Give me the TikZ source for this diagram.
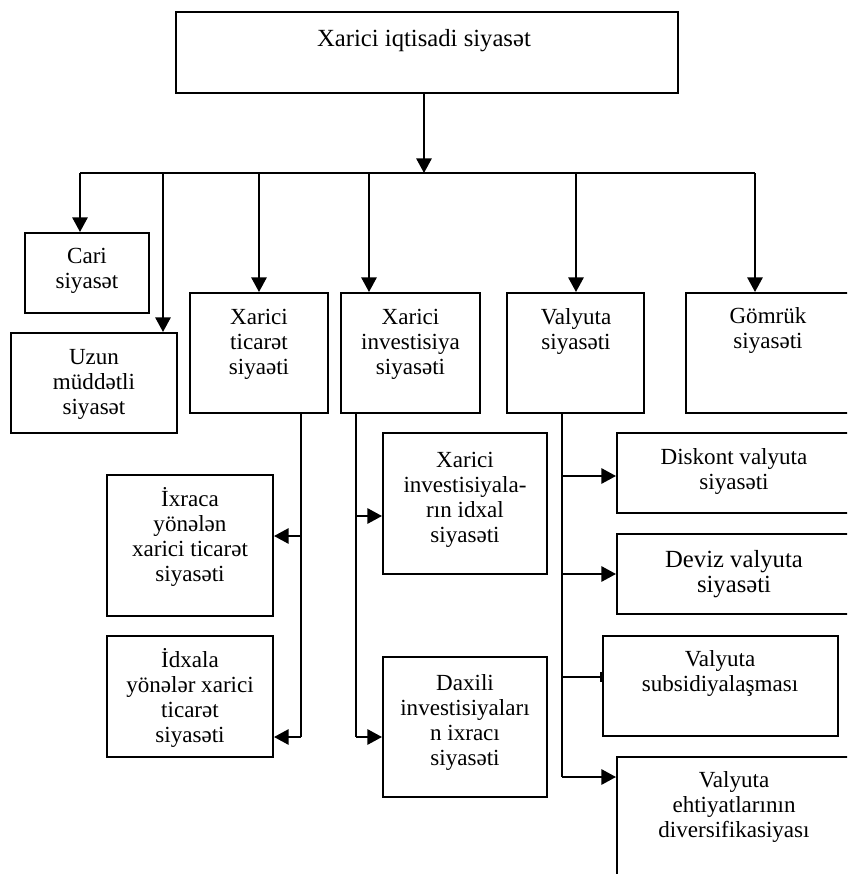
\documentclass[tikz,border=0pt]{standalone}
\usepackage{fontspec}
\setmainfont{Liberation Serif}
\usetikzlibrary{arrows.meta,fit}
\newcommand\boxlabel[5][17.3]{\node[lbl,font=\fontsize{#1}{18.75}\selectfont] (#2) at (#3,#4-20) {\rule{0pt}{15pt}#5};}
\begin{document}
\begin{tikzpicture}[x=0.75pt,y=-0.75pt,
  bx/.style={draw,line width=1.5pt,inner sep=0pt,fit={#1}},
  lbl/.style={inner sep=0pt,align=center,anchor=north},
  ln/.style={line width=1.5pt},
  arr/.style={line width=1.5pt,-{Triangle[length=11pt,width=11.5pt]}},
  bararr/.style={line width=1.5pt,-{Bar[width=8pt]}}]
\useasboundingbox (0,0) rectangle (847,874);
\clip (0,0) rectangle (847,874);
% boxes
\node[bx={(176,12)(678,93)}] (top) {};
\node[bx={(25,233)(149,313)}] (cari) {};
\node[bx={(11,333)(177,433)}] (uzun) {};
\node[bx={(190,293)(328,413)}] (tic) {};
\node[bx={(341,293)(480,413)}] (inv) {};
\node[bx={(507,293)(644,413)}] (val) {};
\node[bx={(686,293)(870,413)}] (gom) {};
\node[bx={(107,475)(273,616)}] (ixr) {};
\node[bx={(107,636)(273,757)}] (idx) {};
\node[bx={(383,433)(547,574)}] (xinv) {};
\node[bx={(383,657)(547,797)}] (dax) {};
\node[bx={(617,433)(870,513)}] (disk) {};
\node[bx={(617,534)(870,614)}] (dev) {};
\node[bx={(603,636)(838,736)}] (subs) {};
\node[bx={(617,757)(870,900)}] (eht) {};
% labels
\boxlabel[18.5]{topt}{424}{46}{Xarici iqtisadi siyasət}
\boxlabel{carit}{87}{263}{Cari\\siyasət}
\boxlabel{uzunt}{94}{364}{Uzun\\müddətli\\siyasət}
\boxlabel{tict}{259}{324}{Xarici\\ticarət\\siyaəti}
\boxlabel{invt}{410.5}{324}{Xarici\\investisiya\\siyasəti}
\boxlabel{valt}{576}{324}{Valyuta\\siyasəti}
\boxlabel{gomt}{768}{323}{Gömrük\\siyasəti}
\boxlabel{ixrt}{190}{506}{İxraca\\yönələn\\xarici ticarət\\siyasəti}
\boxlabel{idxt}{190}{667}{İdxala\\yönələr xarici\\ticarət\\siyasəti}
\boxlabel{xinvt}{465}{467}{Xarici\\investisiyala-\\rın idxal\\siyasəti}
\boxlabel{daxt}{465}{690}{Daxili\\investisiyaları\\n ixracı\\siyasəti}
\boxlabel{diskt}{734}{464}{Diskont valyuta\\siyasəti}
\boxlabel[18.5]{devt}{734}{567}{Deviz valyuta\\siyasəti}
\boxlabel{subst}{720}{666}{Valyuta\\subsidiyalaşması}
\boxlabel{ehtt}{734}{787}{Valyuta\\ehtiyatlarının\\diversifikasiyası}
% bus
\coordinate (bus) at (424,173);
\coordinate (b1) at (80,173);
\coordinate (b2) at (163,173);
\coordinate (b3) at (259,173);
\coordinate (b4) at (369,173);
\coordinate (b5) at (576,173);
\coordinate (b6) at (755,173);
\draw[arr] (top.south -| bus) -- (bus);
\draw[ln] (b1) -- (b6);
\draw[arr] (b1) -- (b1 |- cari.north);
\draw[arr] (b2) -- (b2 |- uzun.north);
\draw[arr] (b3) -- (b3 |- tic.north);
\draw[arr] (b4) -- (b4 |- inv.north);
\draw[arr] (b5) -- (b5 |- val.north);
\draw[arr] (b6) -- (b6 |- gom.north);
% trade branch
\coordinate (t0) at (301,413);
\coordinate (t1) at (301,536);
\coordinate (t2) at (301,737);
\draw[ln] (t0) -- (t2);
\draw[arr] (t1) -- (t1 -| ixr.east);
\draw[arr] (t2) -- (t2 -| idx.east);
% investment branch
\coordinate (i0) at (356,413);
\coordinate (i1) at (356,516);
\coordinate (i2) at (356,737);
\draw[ln] (i0) -- (i2);
\draw[arr] (i1) -- (i1 -| xinv.west);
\draw[arr] (i2) -- (i2 -| dax.west);
% currency branch
\coordinate (v0) at (562,413);
\coordinate (v1) at (562,476);
\coordinate (v2) at (562,574);
\coordinate (v3) at (562,677);
\coordinate (v4) at (562,777);
\draw[ln] (v0) -- (v4);
\draw[arr] (v1) -- (v1 -| disk.west);
\draw[arr] (v2) -- (v2 -| dev.west);
\draw[bararr] (v3) -- (v3 -| subs.west);
\draw[arr] (v4) -- (v4 -| eht.west);
\end{tikzpicture}
\end{document}
